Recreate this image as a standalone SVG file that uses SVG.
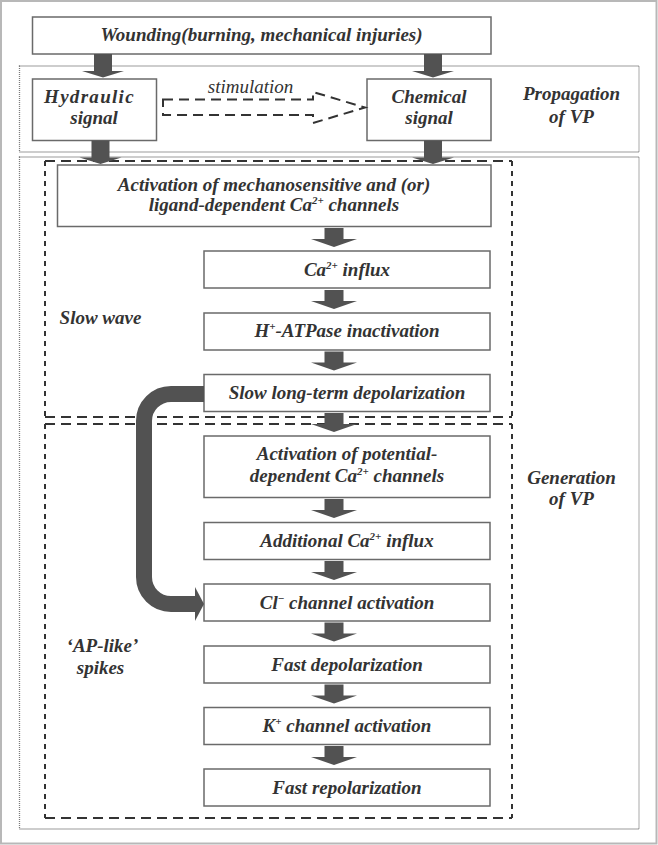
<svg xmlns="http://www.w3.org/2000/svg" xmlns:xlink="http://www.w3.org/1999/xlink" width="658" height="845" viewBox="0 0 658 845">
<style>
  .box { fill: #ffffff; stroke: #6a6a6a; stroke-width: 1.5; }
  .t { font-family: "Liberation Serif", "Times New Roman", "DejaVu Serif", serif; font-weight: bold; font-style: italic; font-size: 19px; fill: #333333; text-anchor: middle; }
  .ti { font-family: "Liberation Serif", "Times New Roman", "DejaVu Serif", serif; font-style: italic; font-size: 19px; fill: #333333; text-anchor: middle; }
  .sup { font-size: 11px; }
  .dotted { fill: none; stroke: #7a7a7a; stroke-width: 1.3; stroke-dasharray: 1 1; }
  .dh { fill: none; stroke: #333333; stroke-width: 2; stroke-dasharray: 10 6; }
  .dv { fill: none; stroke: #333333; stroke-width: 2; stroke-dasharray: 5 5; }
  .arr { fill: #525252; }
  .curve { fill: none; stroke: #525252; stroke-width: 16; }
  .stim { fill: none; stroke: #333333; stroke-width: 2; stroke-dasharray: 10 6; }
</style>
<defs>
  <path id="dn" d="M-9.5,0 H9.5 V11 H23 L0,19 L-23,11 H-9.5 Z"/>
  <path id="dnl" d="M-9,0 H9 V17 H21 L0,23.5 L-21,17 H-9 Z"/>
</defs>
<rect x="0" y="0" width="658" height="845" fill="#ffffff"/>
<rect x="1" y="1" width="655.5" height="842.5" fill="none" stroke="#b8b8b8" stroke-width="2"/>

<g id="region-propagation">
  <rect class="dotted" x="19.5" y="66" width="619.5" height="86"/>
  <text class="t" x="571.5" y="100">Propagation</text>
  <text class="t" x="571.5" y="123">of VP</text>
</g>
<g id="region-generation">
  <rect class="dotted" x="19.5" y="157" width="619.5" height="672"/>
  <text class="t" x="571.5" y="483.5">Generation</text>
  <text class="t" x="571.5" y="505">of VP</text>
</g>
<g id="region-slow-wave">
  <path class="dh" d="M45,161 H512 M45,417 H512"/>
  <path class="dv" d="M45,161 V417 M512,161 V417"/>
  <text class="t" x="100.5" y="323.5">Slow wave</text>
</g>
<g id="region-spikes">
  <path class="dh" d="M45,424 H512 M45,818 H512"/>
  <path class="dv" d="M45,424 V818 M512,424 V818"/>
  <text class="t" x="102.5" y="651.5">‘AP-like’</text>
  <text class="t" x="100.5" y="673.5">spikes</text>
</g>

<g id="node-wounding">
  <rect class="box" x="32.5" y="17" width="458.5" height="37"/>
  <text class="t" x="261.5" y="41">Wounding(burning, mechanical injuries)</text>
</g>
<g id="node-hydraulic">
  <rect class="box" x="32.5" y="79" width="124" height="61.5"/>
  <text class="t" x="89.5" y="102.5" letter-spacing="1.3">Hydraulic</text>
  <text class="t" x="94" y="124">signal</text>
</g>
<g id="node-chemical">
  <rect class="box" x="367" y="79" width="124" height="61.5"/>
  <text class="t" x="429" y="102.5">Chemical</text>
  <text class="t" x="429" y="123.5">signal</text>
</g>
<g id="node-act-mech">
  <rect class="box" x="57.5" y="165" width="433.5" height="61.5"/>
  <text class="t" x="274" y="190.5">Activation of mechanosensitive and (or)</text>
  <text class="t" x="274" y="211">ligand-dependent Ca<tspan class="sup" dy="-7">2+</tspan><tspan dy="7"> channels</tspan></text>
</g>
<g id="node-ca-influx">
  <rect class="box" x="204" y="251" width="286" height="37"/>
  <text class="t" x="347" y="275.5">Ca<tspan class="sup" dy="-7">2+</tspan><tspan dy="7"> influx</tspan></text>
</g>
<g id="node-h-atpase">
  <rect class="box" x="204" y="313" width="286" height="37"/>
  <text class="t" x="347" y="337">H<tspan class="sup" dy="-7">+</tspan><tspan dy="7">-ATPase inactivation</tspan></text>
</g>
<g id="node-slow-depol">
  <rect class="box" x="204" y="374.5" width="286" height="37"/>
  <text class="t" x="347" y="398.5">Slow long-term depolarization</text>
</g>
<g id="node-act-pot">
  <rect class="box" x="204" y="436" width="286" height="61.5"/>
  <text class="t" x="347" y="460">Activation of potential-</text>
  <text class="t" x="347" y="482">dependent Ca<tspan class="sup" dy="-7">2+</tspan><tspan dy="7"> channels</tspan></text>
</g>
<g id="node-add-ca">
  <rect class="box" x="204" y="522.5" width="286" height="37"/>
  <text class="t" x="347" y="547">Additional Ca<tspan class="sup" dy="-7">2+</tspan><tspan dy="7"> influx</tspan></text>
</g>
<g id="node-cl">
  <rect class="box" x="204" y="584" width="286" height="37"/>
  <text class="t" x="347" y="608.5">Cl<tspan class="sup" dy="-7">−</tspan><tspan dy="7"> channel activation</tspan></text>
</g>
<g id="node-fast-depol">
  <rect class="box" x="204" y="646" width="286" height="37"/>
  <text class="t" x="347" y="670.5">Fast depolarization</text>
</g>
<g id="node-k">
  <rect class="box" x="204" y="707.5" width="286" height="37"/>
  <text class="t" x="347" y="732">K<tspan class="sup" dy="-7">+</tspan><tspan dy="7"> channel activation</tspan></text>
</g>
<g id="node-fast-repol">
  <rect class="box" x="204" y="769" width="286" height="37"/>
  <text class="t" x="347" y="793.5">Fast repolarization</text>
</g>

<g id="connectors">
  <use xlink:href="#dnl" href="#dnl" class="arr" x="103" y="54"/>
  <use xlink:href="#dnl" href="#dnl" class="arr" x="433" y="54"/>
  <use xlink:href="#dnl" href="#dnl" class="arr" x="100.5" y="140.5"/>
  <use xlink:href="#dnl" href="#dnl" class="arr" x="433" y="140.5"/>
  <use xlink:href="#dn" href="#dn" class="arr" x="334" y="228"/>
  <use xlink:href="#dn" href="#dn" class="arr" x="334" y="290"/>
  <use xlink:href="#dn" href="#dn" class="arr" x="334" y="351.5"/>
  <use xlink:href="#dn" href="#dn" class="arr" x="334" y="413"/>
  <use xlink:href="#dn" href="#dn" class="arr" x="334" y="499"/>
  <use xlink:href="#dn" href="#dn" class="arr" x="334" y="561"/>
  <use xlink:href="#dn" href="#dn" class="arr" x="334" y="622.5"/>
  <use xlink:href="#dn" href="#dn" class="arr" x="334" y="684.5"/>
  <use xlink:href="#dn" href="#dn" class="arr" x="334" y="746"/>
  <path class="curve" d="M204,394 H171 A27,27 0 0 0 144,421 V577 A27,27 0 0 0 171,604 H196"/>
  <polygon class="arr" points="195,587 204,604 195,621"/>
  <path class="stim" d="M163,99.5 H313 V92 L365,107.5 L313,123 V115 H163 Z"/>
  <text class="ti" x="250.5" y="93">stimulation</text>
</g>
</svg>
